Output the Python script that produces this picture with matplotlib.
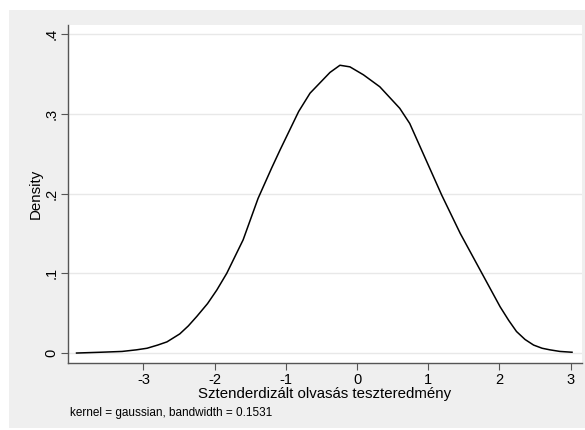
import matplotlib
matplotlib.use("Agg")
import matplotlib.pyplot as plt
from matplotlib.patches import Rectangle

plt.rcParams["font.family"] = ["Liberation Sans", "DejaVu Sans"]

# kernel density estimate
score = [-3.94, -3.6, -3.3, -3.1, -2.95, -2.8, -2.67, -2.49, -2.37, -2.25,
         -2.1, -1.97, -1.83, -1.60, -1.39, -1.2, -1.08, -0.82, -0.66, -0.38,
         -0.24, -0.10, 0.09, 0.32, 0.60, 0.74, 1.03, 1.19, 1.45, 1.73,
         2.01, 2.13, 2.24, 2.36, 2.48, 2.6, 2.71, 2.85, 3.02]
density = [0.000, 0.001, 0.002, 0.004, 0.006, 0.010, 0.014, 0.024, 0.034, 0.046,
           0.062, 0.079, 0.100, 0.142, 0.194, 0.232, 0.255, 0.303, 0.326, 0.352,
           0.361, 0.359, 0.349, 0.334, 0.307, 0.288, 0.230, 0.198, 0.150, 0.104,
           0.058, 0.041, 0.027, 0.017, 0.010, 0.006, 0.004, 0.002, 0.001]

xticks = [-3, -2, -1, 0, 1, 2, 3]
yticks = [0, 0.1, 0.2, 0.3, 0.4]
ytick_labels = ["0", ".1", ".2", ".3", ".4"]

fig = plt.figure(figsize=(5.85, 4.3), dpi=100)
fig.patch.set_facecolor("white")
fig.add_artist(Rectangle((9 / 585, 2 / 430), 576 / 585, 418 / 430,
                         transform=fig.transFigure, facecolor="#efefef",
                         edgecolor="none", zorder=0))

ax = fig.add_axes([68 / 585, 67 / 430, 514 / 585, 338 / 430])
ax.set_facecolor("white")

ax.plot(score, density, color="black", linewidth=1.1, zorder=3)

ax.set_xlim(-4.06, 3.16)
ax.set_ylim(-0.0125, 0.4115)
ax.set_xticks(xticks)
ax.set_xticklabels([str(t) for t in xticks])
ax.set_yticks(yticks)
ax.set_yticklabels(ytick_labels, rotation=90, va="center")
ax.yaxis.grid(True, color="#e8e8e8", linewidth=1.0)
ax.set_axisbelow(True)

for s in ["top", "right"]:
    ax.spines[s].set_visible(False)
for s in ["left", "bottom"]:
    ax.spines[s].set_color("#555555")
    ax.spines[s].set_linewidth(1.0)
ax.tick_params(direction="out", length=5, width=0.8, color="#555555",
               labelsize=10.5, pad=2)

ax.set_xlabel("Sztenderdizált olvasás teszteredmény", fontsize=10.8, labelpad=0)
ax.set_ylabel("Density", fontsize=10.8, labelpad=1)

fig.text(70 / 585, (430 - 413) / 430, "kernel = gaussian, bandwidth = 0.1531",
         fontsize=8.5, va="center", ha="left")

fig.savefig("out.png", dpi=100, facecolor=fig.get_facecolor())
